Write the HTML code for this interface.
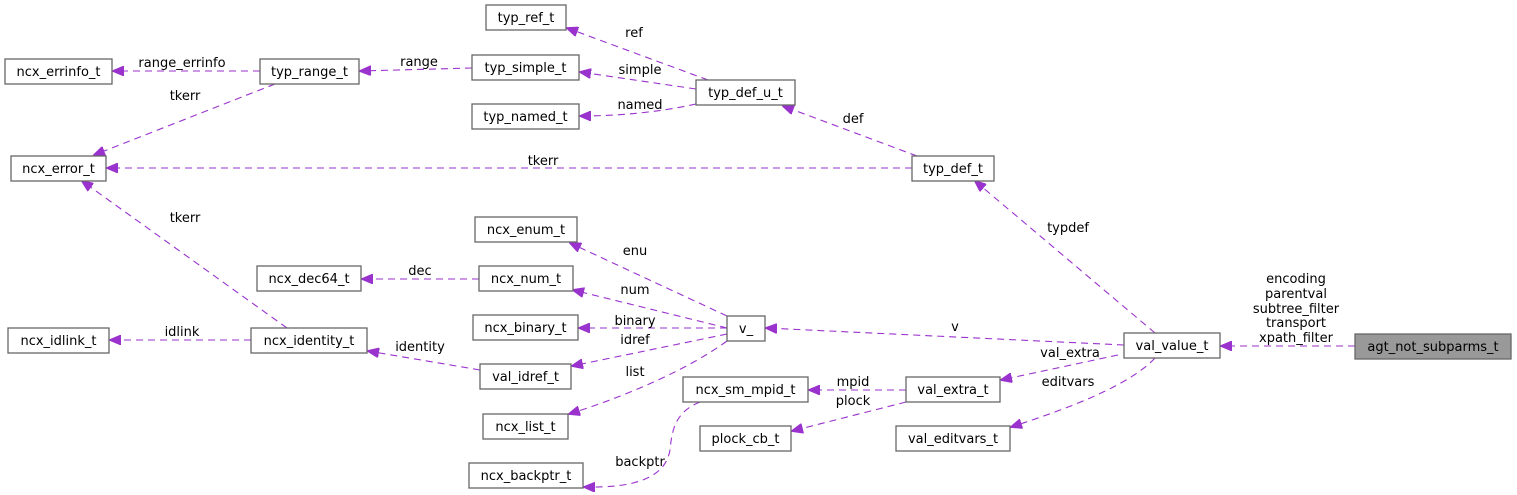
<!DOCTYPE html>
<html><head><meta charset="utf-8"><style>
html,body{margin:0;padding:0;background:#fff;}
svg{display:block;}
text{font-family:"DejaVu Sans","Liberation Sans",sans-serif;font-size:13px;fill:#000;}
.n{fill:#fff;stroke:#666;stroke-width:1.3;}
.e{fill:none;stroke:#9a32cd;stroke-width:1.1;stroke-dasharray:7,5;}
.a{fill:#9a32cd;stroke:#9a32cd;}
</style></head><body>
<svg width="1517" height="495" viewBox="0 0 1517 495" xmlns="http://www.w3.org/2000/svg">
<defs><marker id="ar" markerWidth="12" markerHeight="10" refX="11" refY="5" orient="auto" markerUnits="userSpaceOnUse"><path d="M0,0 L12,5 L0,10 z" class="a"/></marker></defs>

<g class="e">
<path d="M708,80 L567,28" marker-end="url(#ar)"/>
<path d="M696,89 L580,72" marker-end="url(#ar)"/>
<path d="M696,104 C660,112 620,116 580,116" marker-end="url(#ar)"/>
<path d="M472,68 L360,71" marker-end="url(#ar)"/>
<path d="M260,71 L113,71" marker-end="url(#ar)"/>
<path d="M275,84 L94,155" marker-end="url(#ar)"/>
<path d="M912,168 L107,168" marker-end="url(#ar)"/>
<path d="M917,156 L783,106" marker-end="url(#ar)"/>
<path d="M287,328 L82,181" marker-end="url(#ar)"/>
<path d="M727,316 L570,243" marker-end="url(#ar)"/>
<path d="M727,328 L573,290" marker-end="url(#ar)"/>
<path d="M727,328 L579,328" marker-end="url(#ar)"/>
<path d="M727,334 L572,366" marker-end="url(#ar)"/>
<path d="M727,341 C690,368 630,395 569,414" marker-end="url(#ar)"/>
<path d="M479,279 L362,279" marker-end="url(#ar)"/>
<path d="M480,370 L368,351" marker-end="url(#ar)"/>
<path d="M251,340 L110,340" marker-end="url(#ar)"/>
<path d="M1124,345 L766,328" marker-end="url(#ar)"/>
<path d="M1155,333 L975,181" marker-end="url(#ar)"/>
<path d="M1355,346 L1221,346" marker-end="url(#ar)"/>
<path d="M1118,355 L1001,380" marker-end="url(#ar)"/>
<path d="M1155,358 C1130,385 1070,408 1011,427" marker-end="url(#ar)"/>
<path d="M906,390 L809,390" marker-end="url(#ar)"/>
<path d="M906,402 L792,431" marker-end="url(#ar)"/>
<path d="M700,402 C675,412 672,430 670,450 C665,480 630,488 584,487" marker-end="url(#ar)"/>
</g>

<g text-anchor="middle">
<text x="634" y="37">ref</text>
<text x="640" y="74">simple</text>
<text x="640" y="109">named</text>
<text x="419" y="66">range</text>
<text x="182" y="67">range_errinfo</text>
<text x="185" y="100">tkerr</text>
<text x="543" y="165">tkerr</text>
<text x="853" y="123">def</text>
<text x="185" y="222">tkerr</text>
<text x="1068" y="232">typdef</text>
<text x="635" y="255">enu</text>
<text x="635" y="294">num</text>
<text x="635" y="325">binary</text>
<text x="635" y="344">idref</text>
<text x="635" y="376">list</text>
<text x="420" y="275">dec</text>
<text x="182" y="336">idlink</text>
<text x="420" y="351">identity</text>
<text x="955" y="331">v</text>
<text x="1296" y="283">encoding</text>
<text x="1296" y="298">parentval</text>
<text x="1296" y="313">subtree_filter</text>
<text x="1296" y="327">transport</text>
<text x="1296" y="342">xpath_filter</text>
<text x="1070" y="357">val_extra</text>
<text x="1068" y="386">editvars</text>
<text x="853" y="386">mpid</text>
<text x="853" y="405">plock</text>
<text x="640" y="466">backptr</text>
</g>

<g>
<rect class="n" x="486" y="5" width="80" height="25"/>
<rect class="n" x="5" y="59" width="107" height="25"/>
<rect class="n" x="260" y="59" width="99" height="25"/>
<rect class="n" x="472" y="55" width="107" height="25"/>
<rect class="n" x="472" y="104" width="107" height="25"/>
<rect class="n" x="696" y="80" width="99" height="25"/>
<rect class="n" x="11" y="156" width="95" height="25"/>
<rect class="n" x="912" y="156" width="82" height="25"/>
<rect class="n" x="475" y="217" width="102" height="25"/>
<rect class="n" x="257" y="266" width="104" height="25"/>
<rect class="n" x="479" y="266" width="94" height="25"/>
<rect class="n" x="473" y="315" width="105" height="25"/>
<rect class="n" x="727" y="316" width="38" height="25"/>
<rect class="n" x="8" y="328" width="101" height="25"/>
<rect class="n" x="251" y="328" width="116" height="25"/>
<rect x="1355" y="334" width="156" height="25" fill="#999" stroke="#666" stroke-width="1.3"/>
<rect class="n" x="1124" y="333" width="96" height="25"/>
<rect class="n" x="480" y="364" width="91" height="25"/>
<rect class="n" x="683" y="377" width="125" height="25"/>
<rect class="n" x="906" y="377" width="94" height="25"/>
<rect class="n" x="483" y="414" width="85" height="25"/>
<rect class="n" x="700" y="426" width="91" height="25"/>
<rect class="n" x="896" y="426" width="114" height="25"/>
<rect class="n" x="469" y="463" width="114" height="25"/>
</g>
<g text-anchor="middle">
<text x="526" y="22">typ_ref_t</text>
<text x="58.5" y="76">ncx_errinfo_t</text>
<text x="309.5" y="76">typ_range_t</text>
<text x="525.5" y="72">typ_simple_t</text>
<text x="525.5" y="121">typ_named_t</text>
<text x="745.5" y="97">typ_def_u_t</text>
<text x="58.5" y="173">ncx_error_t</text>
<text x="953" y="173">typ_def_t</text>
<text x="526" y="234">ncx_enum_t</text>
<text x="309" y="283">ncx_dec64_t</text>
<text x="526" y="283">ncx_num_t</text>
<text x="525.5" y="332">ncx_binary_t</text>
<text x="746" y="333">v_</text>
<text x="58.5" y="345">ncx_idlink_t</text>
<text x="309" y="345">ncx_identity_t</text>
<text x="1433" y="351">agt_not_subparms_t</text>
<text x="1172" y="350">val_value_t</text>
<text x="525.5" y="381">val_idref_t</text>
<text x="745.5" y="394">ncx_sm_mpid_t</text>
<text x="953" y="394">val_extra_t</text>
<text x="525.5" y="431">ncx_list_t</text>
<text x="745.5" y="443">plock_cb_t</text>
<text x="953" y="443">val_editvars_t</text>
<text x="526" y="480">ncx_backptr_t</text>
</g>
</svg>
</body></html>
